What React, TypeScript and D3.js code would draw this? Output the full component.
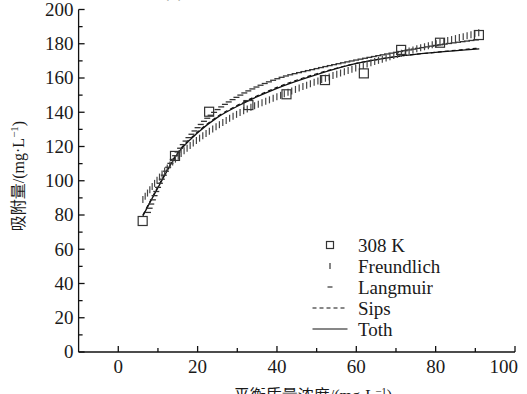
import React, { useMemo } from 'react';
import * as d3 from 'd3';

const W = 527;
const H = 394;

// Observed points (308 K)
const OBS_C = [6.15, 14.3, 22.9, 32.8, 42.4, 52.1, 61.9, 71.3, 81.1, 90.9];
const OBS_Q = [76.5, 114.5, 140.3, 144.2, 150.5, 158.8, 162.7, 176.4, 180.6, 185.1];

// Model curves
const FREUNDLICH_C = [6.2, 10, 15, 20, 25, 30, 40, 50, 60, 70, 80, 91];
const FREUNDLICH_Q = [89, 101, 114, 124, 132, 139, 149, 158, 166, 173.5, 180, 186.5];

const LANGMUIR_C = [7.5, 10, 15, 20, 25, 30, 40, 50, 60, 70, 80, 91];
const LANGMUIR_Q = [81.5, 96, 117, 131, 141.5, 149, 159.5, 165.5, 170.5, 175, 179, 182.5];

const SIPS_C = [6.2, 10, 15, 20, 25, 30, 40, 50, 60, 70, 80, 91];
const SIPS_Q = [80, 96.5, 116.5, 128.5, 137.5, 144, 154.5, 162.5, 168.5, 172.5, 175, 177.5];

const TOTH_C = [6.2, 10, 15, 20, 25, 30, 40, 50, 60, 70, 80, 91];
const TOTH_Q = [79.5, 96, 116, 128, 137, 143.5, 154, 162, 168.5, 172.5, 175, 177];

const X_TICKS = [0, 20, 40, 60, 80, 100];
const X_MINOR = [10, 30, 50, 70, 90];
const Y_TICKS = [0, 20, 40, 60, 80, 100, 120, 140, 160, 180, 200];
const Y_MINOR = [10, 30, 50, 70, 90, 110, 130, 150, 170, 190];

const LEGEND_LABELS = ['308 K', 'Freundlich', 'Langmuir', 'Sips', 'Toth'];

const LATIN = '"Liberation Serif"';
const CJK = '"Liberation Serif", "Noto Sans CJK SC"';

const x = d3.scaleLinear().domain([-10, 100]).range([78.6, 515]);
const y = d3.scaleLinear().domain([0, 200]).range([352, 9.5]);

const toPts = (cs: number[], qs: number[]) => cs.map((c, i) => [c, qs[i]] as [number, number]);

const lineGen = d3
  .line<[number, number]>()
  .x((d) => x(d[0]))
  .y((d) => y(d[1]))
  .curve(d3.curveMonotoneX);

// Evaluate the generated curve through a custom context and place markers evenly along it
function sampleAlong(cs: number[], qs: number[], step: number) {
  const poly: [number, number][] = [];
  let cx = 0;
  let cy = 0;
  const ctx: any = {
    moveTo(px: number, py: number) { poly.push([px, py]); cx = px; cy = py; },
    lineTo(px: number, py: number) { poly.push([px, py]); cx = px; cy = py; },
    bezierCurveTo(x1: number, y1: number, x2: number, y2: number, px: number, py: number) {
      for (let t = 1; t <= 30; t++) {
        const s = t / 30;
        const u = 1 - s;
        poly.push([
          u * u * u * cx + 3 * u * u * s * x1 + 3 * u * s * s * x2 + s * s * s * px,
          u * u * u * cy + 3 * u * u * s * y1 + 3 * u * s * s * y2 + s * s * s * py,
        ]);
      }
      cx = px; cy = py;
    },
    closePath() {},
  };
  d3.line<[number, number]>().x((d) => x(d[0])).y((d) => y(d[1])).curve(d3.curveMonotoneX).context(ctx)(toPts(cs, qs));
  const out: { x: number; y: number }[] = [];
  if (!poly.length) return out;
  out.push({ x: poly[0][0], y: poly[0][1] });
  let acc = 0;
  let next = step;
  for (let i = 1; i < poly.length; i++) {
    const [ax, ay] = poly[i - 1];
    const [bx, by] = poly[i];
    const seg = Math.hypot(bx - ax, by - ay);
    while (acc + seg >= next) {
      const f = (next - acc) / seg;
      out.push({ x: ax + (bx - ax) * f, y: ay + (by - ay) * f });
      next += step;
    }
    acc += seg;
  }
  return out;
}

export default function App() {
  const fpts = useMemo(() => sampleAlong(FREUNDLICH_C, FREUNDLICH_Q, 4), []);
  const lpts = useMemo(() => sampleAlong(LANGMUIR_C, LANGMUIR_Q, 4.5), []);
  const x0 = x(-10);
  const y0 = y(0);
  const axisColor = '#111';
  const textColor = '#1a1a1a';

  return (
    <svg width={W} height={H} style={{ position: 'absolute', left: 0, top: 0, background: '#fff' }}>
      <rect width={W} height={H} fill="#fff" />

      {/* partial title at top (cut off) */}
      <text x={163} y={-3} fill="#777" style={{ fontFamily: LATIN, fontSize: '18px' }}>(b)</text>

      {/* Y axis */}
      <line x1={x0} x2={x0} y1={y(200)} y2={y0} stroke={axisColor} strokeWidth={1.3} />
      {Y_TICKS.map((t) => (
        <g key={'yt' + t}>
          <line x1={x0} x2={x0 + 6} y1={y(t)} y2={y(t)} stroke={axisColor} strokeWidth={1.3} />
          <text
            x={x0 - 5}
            y={y(t)}
            dy="0.34em"
            textAnchor="end"
            fill={textColor}
            style={{ fontFamily: LATIN, fontSize: '19px' }}
          >
            {t}
          </text>
        </g>
      ))}
      {Y_MINOR.map((t) => (
        <line key={'ym' + t} x1={x0} x2={x0 + 4} y1={y(t)} y2={y(t)} stroke={axisColor} strokeWidth={1.3} />
      ))}

      {/* X axis */}
      <line x1={x0} x2={x(100)} y1={y0} y2={y0} stroke={axisColor} strokeWidth={1.3} />
      {X_TICKS.map((t) => (
        <g key={'xt' + t}>
          <line x1={x(t)} x2={x(t)} y1={y0} y2={y0 - 6} stroke={axisColor} strokeWidth={1.3} />
          <text
            x={t === 100 ? x(t) + 3 : x(t)}
            y={373}
            textAnchor={t === 100 ? 'end' : 'middle'}
            fill={textColor}
            style={{ fontFamily: LATIN, fontSize: '19px' }}
          >
            {t}
          </text>
        </g>
      ))}
      {X_MINOR.map((t) => (
        <line key={'xm' + t} x1={x(t)} x2={x(t)} y1={y0} y2={y0 - 4} stroke={axisColor} strokeWidth={1.3} />
      ))}

      {/* Axis titles */}
      <text
        transform="translate(24,176) rotate(-90)"
        textAnchor="middle"
        fill={textColor}
        style={{ fontFamily: CJK, fontSize: '16px' }}
      >
        <tspan>吸附量/(mg·L</tspan>
        <tspan dy={-6} style={{ fontSize: '11px' }}>−1</tspan>
        <tspan dy={6}>)</tspan>
      </text>
      <text
        x={313}
        y={401}
        textAnchor="middle"
        fill={textColor}
        style={{ fontFamily: CJK, fontSize: '16px' }}
      >
        <tspan>平衡质量浓度/(mg·L</tspan>
        <tspan dy={-6} style={{ fontSize: '11px' }}>−1</tspan>
        <tspan dy={6}>)</tspan>
      </text>

      {/* Toth (solid) */}
      <path d={lineGen(toPts(TOTH_C, TOTH_Q)) || ''} fill="none" stroke="#111" strokeWidth={1.3} />
      {/* Sips (dashed) */}
      <path
        d={lineGen(toPts(SIPS_C, SIPS_Q)) || ''}
        fill="none"
        stroke="#111"
        strokeWidth={1.2}
        strokeDasharray="4 3"
      />
      {/* Langmuir: horizontal dashes */}
      <g>
        {lpts.map((p, i) => (
          <line key={'l' + i} x1={p.x - 3} x2={p.x + 3} y1={p.y} y2={p.y} stroke="#333" strokeWidth={1.3} />
        ))}
      </g>
      {/* Freundlich: vertical ticks */}
      <g>
        {fpts.map((p, i) => (
          <line key={'f' + i} x1={p.x} x2={p.x} y1={p.y - 3.5} y2={p.y + 3.5} stroke="#444" strokeWidth={1.2} />
        ))}
      </g>

      {/* Observed squares */}
      <g>
        {OBS_C.map((c, i) => (
          <rect
            key={'o' + i}
            x={x(c) - 4.5}
            y={y(OBS_Q[i]) - 4.5}
            width={9}
            height={9}
            fill="none"
            stroke="#333"
            strokeWidth={1.2}
          />
        ))}
      </g>

      {/* Legend */}
      <g>
        {LEGEND_LABELS.map((lab, i) => (
          <text
            key={lab}
            x={358}
            y={245 + i * 21 + 6.5}
            fill={textColor}
            style={{ fontFamily: LATIN, fontSize: '19px' }}
          >
            {lab}
          </text>
        ))}
        <rect x={326.5} y={245 - 3.5} width={7} height={7} fill="none" stroke="#333" strokeWidth={1.2} />
        <line x1={330} x2={330} y1={266 - 3} y2={266 + 3} stroke="#333" strokeWidth={1.2} />
        <line x1={327.5} x2={332.5} y1={287} y2={287} stroke="#333" strokeWidth={1.2} />
        <line x1={312.5} x2={347.5} y1={308} y2={308} stroke="#111" strokeWidth={1.1} strokeDasharray="4 3" />
        <line x1={312.5} x2={347.5} y1={329} y2={329} stroke="#111" strokeWidth={1.2} />
      </g>
    </svg>
  );
}
